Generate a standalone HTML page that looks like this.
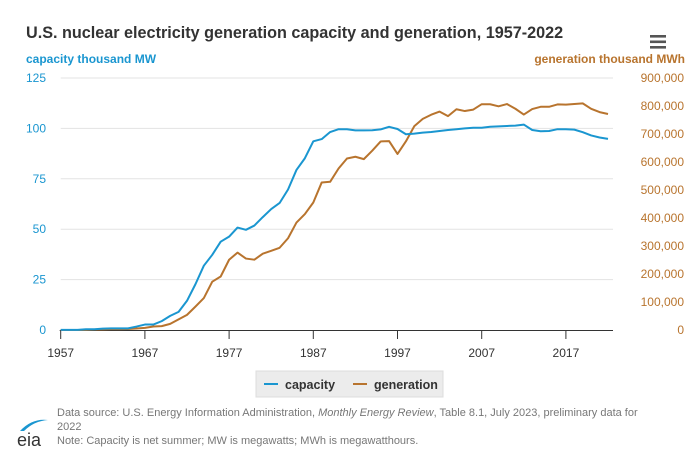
<!DOCTYPE html>
<html><head><meta charset="utf-8"><style>
body{margin:0;background:#fff;font-family:"Liberation Sans",sans-serif;}
svg{display:block}
</style></head><body>
<svg width="695" height="468" viewBox="0 0 695 468">
<text x="26" y="38" font-size="16.2" font-weight="bold" fill="#333">U.S. nuclear electricity generation capacity and generation, 1957-2022</text>
<g fill="#555">
<rect x="650" y="35" width="16" height="2.6"/><rect x="650" y="40.5" width="16" height="2.6"/><rect x="650" y="46" width="16" height="2.6"/></g>
<text x="26" y="63" font-size="12" font-weight="bold" fill="#1a96d0">capacity thousand MW</text>
<text x="685" y="63" font-size="12" font-weight="bold" fill="#b8742e" text-anchor="end">generation thousand MWh</text>
<g id="grid"></g><g id="axes"></g><g id="series"></g>
<g>
<rect x="256" y="371" width="187" height="26" fill="#ececec" stroke="#ddd"/>
<g><rect x="264" y="383" width="14" height="2" fill="#1a96d0"/><text x="285" y="389" font-size="12.5" font-weight="bold" fill="#333">capacity</text></g>
<g><rect x="353" y="383" width="14" height="2" fill="#b8742e"/><text x="374" y="389" font-size="12.5" font-weight="bold" fill="#333">generation</text></g>
</g>
<g font-size="11" fill="#777">
<text x="57" y="416">Data source: U.S. Energy Information Administration, <tspan font-style="italic">Monthly Energy Review</tspan>, Table 8.1, July 2023, preliminary data for</text>
<text x="57" y="430">2022</text>
<text x="57" y="444">Note: Capacity is net summer; MW is megawatts; MWh is megawatthours.</text>
</g>
<g>
<path d="M20 431 Q32 418 48 420 Q34 421 24 431 Z" fill="#1a96d0"/>
<text x="17" y="446" font-size="18" fill="#333">eia</text>
</g>
</svg>
<script>
const years=[];for(let y=1957;y<=2022;y++)years.push(y);
const capacity=[0.06,0.06,0.06,0.4,0.4,0.7,0.8,0.8,0.8,1.7,2.7,2.7,4.4,7.0,9.0,14.5,22.7,31.9,37.3,43.8,46.3,50.8,49.7,51.8,56.0,60.0,63.0,69.7,79.4,85.2,93.6,94.7,98.2,99.6,99.6,99.0,99.0,99.1,99.5,100.8,99.7,97.1,97.4,97.9,98.2,98.7,99.2,99.6,100.0,100.3,100.3,100.8,101.0,101.2,101.4,101.9,99.2,98.6,98.7,99.6,99.6,99.4,98.1,96.5,95.5,94.8];
const generation=[10,165,188,518,1692,2270,3212,3343,3657,5520,7655,12528,13928,21804,38105,54091,83479,113976,172505,191104,250883,276403,255155,251116,272674,282773,293677,327634,383691,414038,455270,526973,529355,576862,612565,618776,610291,640440,673402,674729,628644,673702,728254,753893,768826,780064,763733,788528,781986,787219,806425,806208,798855,806968,790204,769331,789016,797166,797178,805694,804950,807084,809409,789919,778152,771537];
const leftTicks=[0,25,50,75,100,125];
const rightTicks=[0,100000,200000,300000,400000,500000,600000,700000,800000,900000];
const xTicks=[1957,1967,1977,1987,1997,2007,2017];
const NS="http://www.w3.org/2000/svg";
const X0=60.7,PX=8.42,Y0=330,PLOT_H=252,PR=613;
const x=y=>X0+(y-1957)*PX;
const yl=v=>Y0-v/125*PLOT_H;
const yr=v=>Y0-v/900000*PLOT_H;
function mk(tag,attrs,parent){const e=document.createElementNS(NS,tag);for(const k in attrs)e.setAttribute(k,attrs[k]);parent.appendChild(e);return e;}
const grid=document.getElementById('grid'),axes=document.getElementById('axes'),series=document.getElementById('series');
leftTicks.forEach(v=>{
 if(v>0){const l=mk('line',{x1:X0,x2:PR,y1:yl(v),y2:yl(v),stroke:'#e3e3e3'},grid);
 
 }
 const t=mk('text',{x:46,y:yl(v)+4,'font-size':12,fill:'#1a96d0','text-anchor':'end'},axes);t.textContent=v;
 
 
});
rightTicks.forEach(v=>{
 const t=mk('text',{x:684,y:yr(v)+4,'font-size':12,fill:'#b8742e','text-anchor':'end'},axes);t.textContent=v.toLocaleString('en-US');
 
 
});
const ax=mk('line',{x1:X0-1,x2:PR,y1:Y0+0.5,y2:Y0+0.5,stroke:'#333'},axes);


xTicks.forEach(v=>{
 mk('line',{x1:x(v),x2:x(v),y1:Y0,y2:Y0+9,stroke:'#333'},axes);
 const t=mk('text',{x:x(v),y:357,'font-size':12,fill:'#333','text-anchor':'middle'},axes);t.textContent=v;
 
 
});
const p1=mk('polyline',{points:years.map((y,i)=>x(y)+','+yr(generation[i])).join(' '),fill:'none',stroke:'#b8742e','stroke-width':2,'stroke-linejoin':'round'},series);


const p2=mk('polyline',{points:years.map((y,i)=>x(y)+','+yl(capacity[i])).join(' '),fill:'none',stroke:'#1a96d0','stroke-width':2,'stroke-linejoin':'round'},series);


</script>
</body></html>
